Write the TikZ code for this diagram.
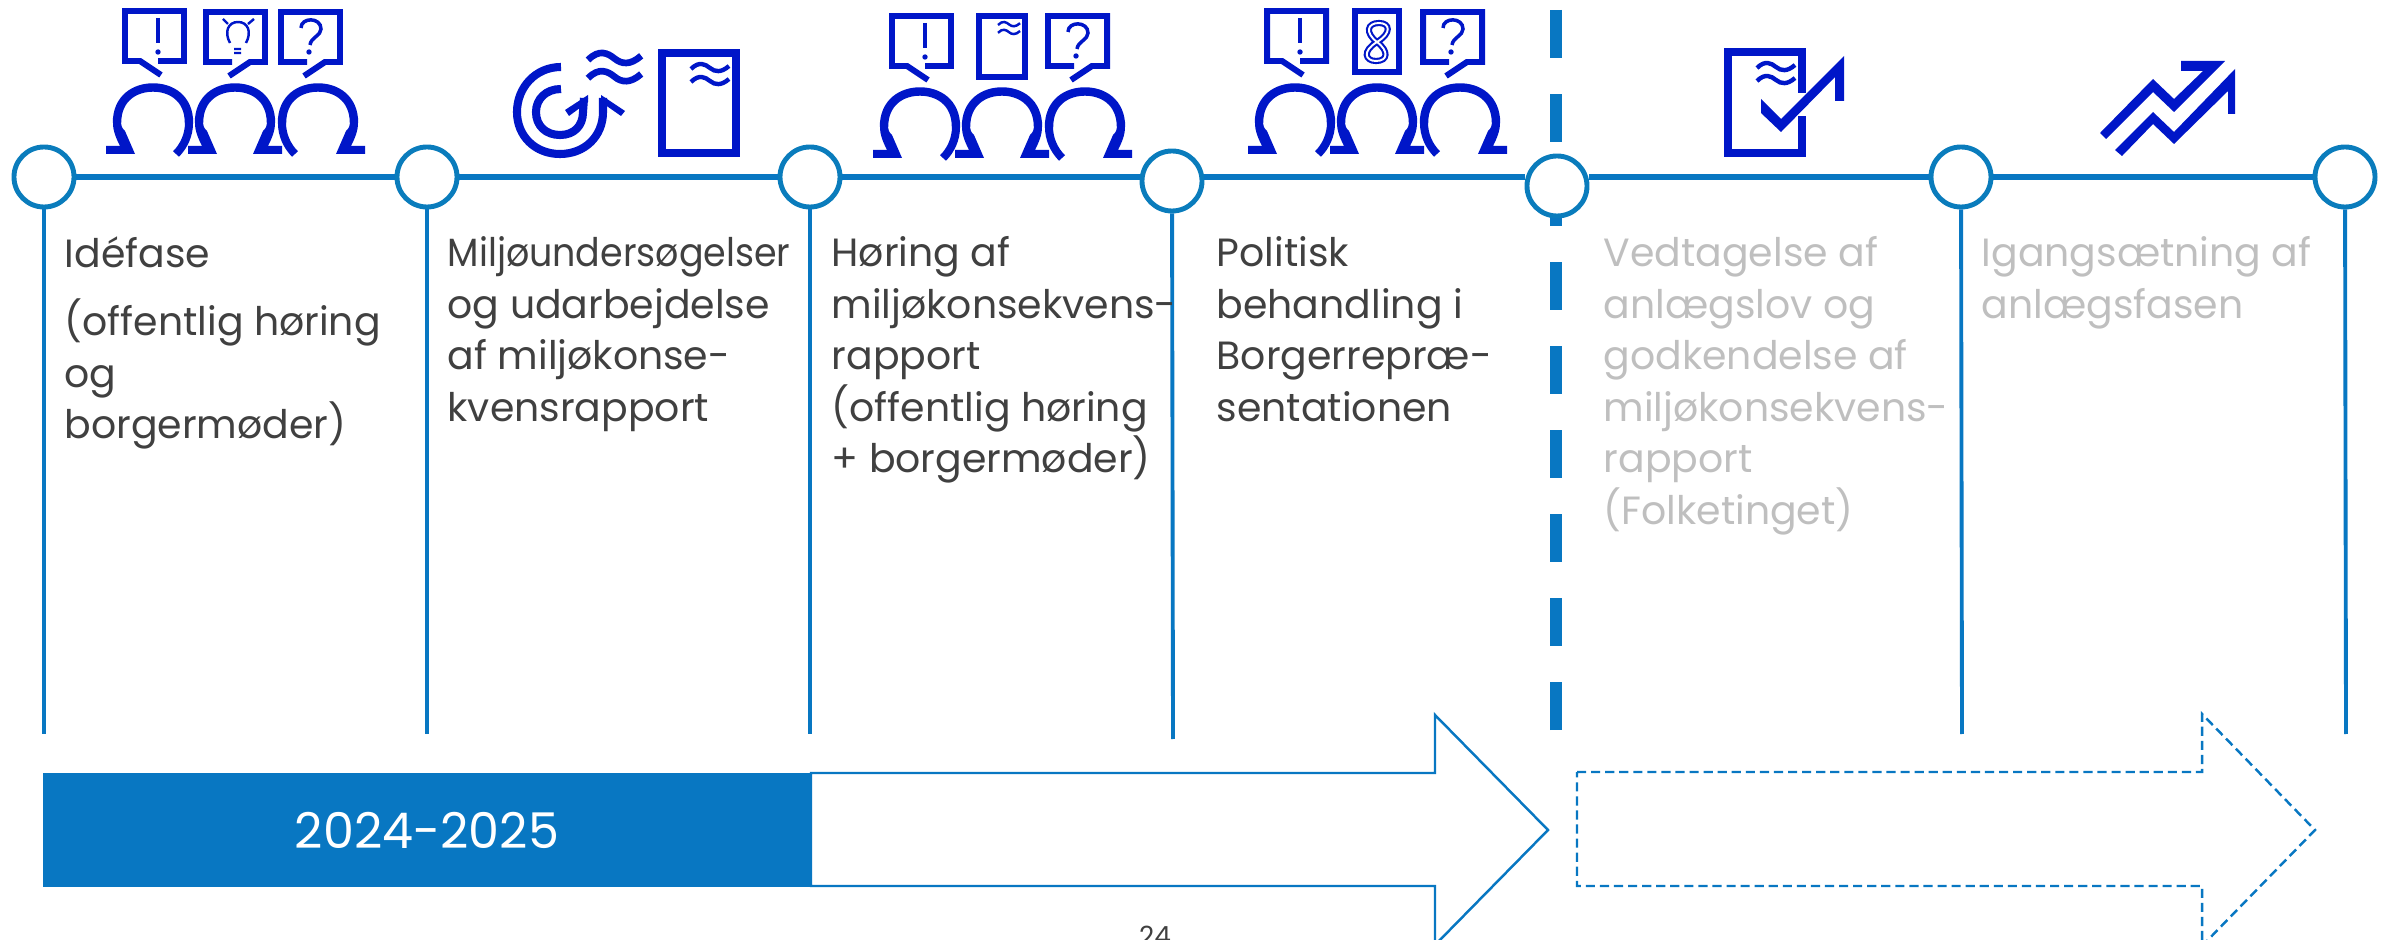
\documentclass[tikz,border=0pt]{standalone}
\usepackage{fontspec}
\setmainfont{Poppins}
\newfontface\tightface[FakeStretch=.925]{Poppins}
\definecolor{lineblue}{HTML}{0877C2}
\definecolor{dotblue}{HTML}{0A7CBC}
\definecolor{iconblue}{HTML}{0016C8}
\definecolor{darktext}{HTML}{404040}
\definecolor{palegrey}{HTML}{BFBFBF}
\newcommand{\archtop}{(-36,40) .. controls (-36,15) and (-18,4.5) .. (0,4.5) .. controls (18,4.5) and (36,15) .. (36,40)}
\tikzset{
  dot/.style={circle, draw=dotblue, fill=white, line width=1.4pt, minimum size=.6cm, inner sep=0pt},
  spine/.style={draw=lineblue, line width=1.7pt},
  post/.style={draw=lineblue, line width=1.1pt},
  split/.style={draw=lineblue, line width=3.4pt, dash pattern=on 13.66pt off 10.24pt},
  stage/.style={anchor=north west, inner sep=0pt, align=left, text=darktext, font=\fontsize{11.2pt}{14.65pt}\selectfont, execute at begin node=\strut},
  later/.style={stage, text=palegrey},
  icon/.style={draw=iconblue, line width=1.7pt},
  thin icon/.style={draw=iconblue, line width=1pt},
  leg/.pic={\fill[iconblue] (-40,40) .. controls (-40,48) and (-37,55) .. (-33,63) -- (-47,63) -- (-47,71) -- (-18,71) -- (-28,48) .. controls (-31,45) and (-32,43) .. (-32,40) -- cycle;},
  tail/.pic={\draw[icon, line width=2.3pt] (36,40) .. controls (36,52) and (31,63) .. (23,71);},
  crowd/.pic={\foreach \cx in {-82,0,83} \draw[icon, line width=2.4pt, shift={(\cx,0)}] \archtop;
    \pic at (-82,0) {leg}; \pic at (-82,0) {tail};
    \pic at (0,0) {leg}; \pic[xscale=-1] at (0,0) {leg};
    \pic[xscale=-1] at (83,0) {tail}; \pic[xscale=-1] at (83,0) {leg};},
  talk/.pic={\draw[icon] (33,50) -- (59,50) -- (59,0) -- (0,0) -- (0,50) -- (15,50) -- (36,64);},
  exclaim/.pic={\pic {talk};
    \draw[thin icon] (33,7) -- (33,32);
    \fill[iconblue] (33,41) circle (2.7);},
  query/.pic={\pic[xscale=-1] {talk};
    \draw[thin icon] (-39,16) .. controls (-39,5) and (-19,5) .. (-19,17) .. controls (-19,24) and (-29,25) .. (-30,33);
    \fill[iconblue] (-31,40) circle (2.7);},
  idea/.pic={\pic[xscale=-1] {talk};
    \draw[iconblue, line width=.7pt] (-35,31) .. controls (-41,20) and (-37,10) .. (-27,10) .. controls (-17,10) and (-13,20) .. (-19,31)
      (-42,7) -- (-37,12) (-11,7) -- (-17,12) (-31,37) -- (-24,37) (-31,41) -- (-24,41);},
  waves/.pic={\draw[draw=iconblue] (0,5) .. controls (8,-3) and (14,0) .. (19,4) .. controls (24,8) and (30,9) .. (38,2)
      (0,18) .. controls (8,10) and (14,13) .. (19,17) .. controls (24,21) and (30,22) .. (38,15);},
}
\begin{document}
\begin{tikzpicture}[x=.01cm, y=-.01cm]
  \useasboundingbox (0,0) rectangle (2390,940);

  \foreach \n/\x/\y in {1/44/177, 2/427/177, 3/810/177, 4/1172/181, 5/1557/186, 6/1961/177, 7/2345/177}
    \node[dot] (d\n) at (\x,\y) {};
  \foreach \n/\x/\y in {1/44/734, 2/427/734, 3/810/734, 4/1173/739, 6/1962/734, 7/2346/734}
    \coordinate (v\n) at (\x,\y);
  \foreach \n in {1,2,3,4,6,7}
    \draw[post] (d\n) -- (v\n);

  \draw[spine] (d1) -- (d2);
  \draw[spine] (d2) -- (d3);
  \draw[spine] (d3) -- (d3 -| d4.west);
  \draw[spine] (d3 -| d4.east) -- (d3 -| d5.west);
  \draw[spine] (d3 -| d5.east) -- (d6);
  \draw[spine] (d6) -- (d7);

  \coordinate (cuttop) at (1556,10);
  \coordinate (cutend) at (1556,730);
  \draw[split] (cuttop) -- (cuttop |- d5.north);
  \draw[split] (cutend) -- (cutend |- d5.south);

  \node[stage] (t1) at (64,236) {Idéfase\\[4.7pt](offentlig høring\\og\\borgermøder)};
  \node[stage] (t2) at (447,236) {{\tightface Miljøundersøgelser}\\og udarbejdelse\\af miljøkonse-\\kvensrapport};
  \node[stage] (t3) at (831,236) {Høring af\\miljøkonsekvens-\\rapport\\(offentlig høring\\+ borgermøder)};
  \node[stage] (t4) at (1216,236) {Politisk\\behandling i\\Borgerrepræ-\\sentationen};
  \node[later] (t5) at (1603,236) {Vedtagelse af\\anlægslov og\\godkendelse af\\miljøkonsekvens-\\rapport\\(Folketinget)};
  \node[later] (t6) at (1981,236) {Igangsætning af\\anlægsfasen};

  % time arrows
  \draw[draw=lineblue, line width=.7pt, fill=white] (811,773) -- (1435,773) -- (1435,715) -- (1548,830) -- (1435,945) -- (1435,886) -- (811,886) -- cycle;
  \fill[lineblue] (43,773) rectangle (811,887);
  \node[text=white, font=\fontsize{14pt}{16pt}\selectfont, inner sep=0pt] (period) at (427,830) {2024-2025};
  \draw[draw=lineblue, line width=.7pt, dash pattern=on 2.6pt off 1.4pt] (1577,772) -- (2202,772) -- (2202,714) -- (2315,830) -- (2202,946) -- (2202,886) -- (1577,886) -- cycle;
  \node[anchor=base, text=darktext, font=\fontsize{7.5pt}{9pt}\selectfont, inner sep=0pt] (page) at (1155,945) {24};

  % meeting icons
  \pic at (235,83) {crowd};
  \pic at (125,11) {exclaim};
  \pic at (265,12) {idea};
  \pic at (340,12) {query};

  \pic at (1002,87) {crowd};
  \pic at (892,16) {exclaim};
  \draw[icon, line width=1.5pt] (979,16) rectangle (1025,77);
  \pic[xscale=.58, yscale=.6, line width=.7pt] at (998,22) {waves};
  \pic at (1107,16) {query};

  \pic at (1377,83) {crowd};
  \pic at (1267,11) {exclaim};
  \draw[icon, line width=1.5pt] (1355,11) rectangle (1399,72);
  \draw[iconblue, line width=.6pt, double=white, double distance=.55pt] (1377,42) .. controls (1392,33) and (1390,23) .. (1379,23) .. controls (1367,23) and (1365,33) .. (1377,42) .. controls (1389,51) and (1388,61) .. (1376,61) .. controls (1365,61) and (1362,51) .. (1377,42);
  \pic at (1482,12) {query};

  % study icon
  \draw[icon, line width=2.3pt] (561,67) .. controls (535,67) and (517,88) .. (517,112) .. controls (517,136) and (535,154) .. (560,154) .. controls (585,154) and (603,136) .. (603,112) -- (603,98);
  \draw[icon, line width=2.3pt] (561,89) .. controls (546,89) and (536,99) .. (536,112) .. controls (536,126) and (546,135) .. (560,135) .. controls (574,135) and (583,126) .. (583,112) -- (584,98);
  \fill[iconblue] (601,95) -- (625,111) -- (621,116) -- (601,102) -- cycle;
  \fill[iconblue] (588,95) -- (565,110) -- (569,116) -- (588,102) -- cycle;
  \pic[scale=1.4, line width=1.9pt] at (588,53) {waves};
  \draw[icon, line width=2.3pt] (662,53) rectangle (736,153);
  \pic[line width=1.25pt] at (691,64) {waves};

  % approval icon
  \draw[icon, line width=2.3pt] (1802,93) -- (1802,52) -- (1728,52) -- (1728,153) -- (1802,153) -- (1802,116);
  \pic[line width=1.25pt] at (1757,63) {waves};
  \fill[iconblue] (1761,99) -- (1781,119) -- (1844,56) -- (1844,101) -- (1835,101) -- (1835,77) -- (1781,132) -- (1761,113) -- cycle;

  % start icon
  \fill[iconblue] (2100,133) -- (2153,79) -- (2174,99) -- (2203,71) -- (2181,71) -- (2181,61) -- (2225,61) -- (2174,112) -- (2153,92) -- (2106,139) -- cycle;
  \fill[iconblue] (2115,150) -- (2153,112) -- (2174,132) -- (2235,69) -- (2235,114) -- (2228,114) -- (2228,91) -- (2174,144) -- (2153,124) -- (2122,156) -- cycle;
\end{tikzpicture}
\end{document}
